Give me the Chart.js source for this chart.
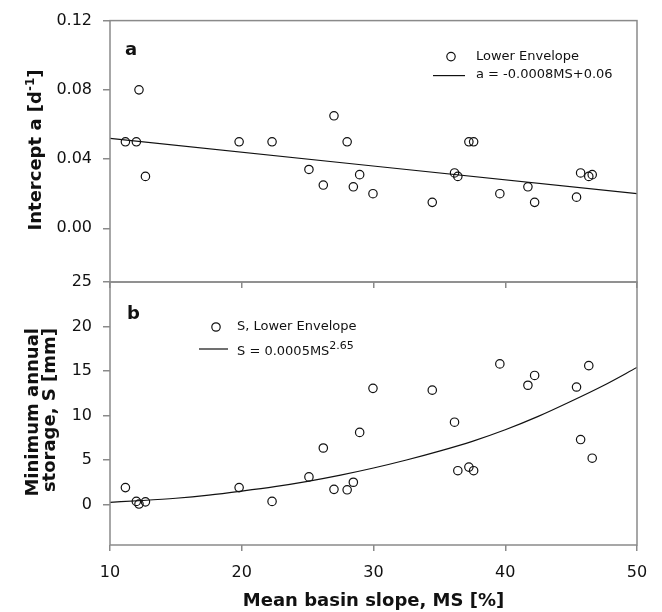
<!DOCTYPE html>
<html>
<head>
<meta charset="utf-8">
<script src="https://cdn.jsdelivr.net/npm/chart.js@4.4.1/dist/chart.umd.min.js"></script>
<style>
  html, body { margin: 0; padding: 0; background: #fff; }
  #wrap { position: relative; width: 662px; height: 612px; }
  #wrap canvas { position: absolute; left: 0; top: 0; }
</style>
</head>
<body>
<div id="wrap">
  <canvas id="panelB" width="662" height="612"></canvas>
  <canvas id="panelA" width="662" height="612"></canvas>
</div>
<script>
// mean basin slope MS [%], same basins in both panels
const slope = [11.17, 12.0, 12.2, 12.69, 19.8, 22.3, 25.1, 26.19, 27.0, 28.0, 28.47, 28.95, 29.96,
               34.46, 36.15, 36.4, 37.24, 37.6, 39.59, 41.72, 42.23, 45.41, 45.72, 46.34, 46.6];
// panel a: intercept a [1/d], lower envelope
const intercept = [0.050, 0.050, 0.080, 0.030, 0.050, 0.050, 0.034, 0.025, 0.065, 0.050, 0.024, 0.031, 0.020,
                   0.015, 0.032, 0.030, 0.050, 0.050, 0.020, 0.024, 0.015, 0.018, 0.032, 0.030, 0.031];
// panel b: minimum annual storage S [mm], lower envelope
const storage = [1.9, 0.35, 0.05, 0.3, 1.9, 0.35, 3.1, 6.35, 1.7, 1.65, 2.5, 8.1, 13.05,
                 12.85, 9.25, 3.8, 4.2, 3.8, 15.8, 13.4, 14.5, 13.2, 7.3, 15.6, 5.2];
// fitted lines
const fitAx = [10, 50];
const fitAy = [0.052, 0.020];
const fitBx = [10, 12.5, 15, 17.5, 20, 22.5, 25, 27.5, 30, 32.5, 35, 37.5, 40, 42.5, 45, 47.5, 50];
const fitBy = [0.25, 0.45, 0.7, 1.05, 1.5, 2.0, 2.6, 3.3, 4.1, 5.0, 6.0, 7.1, 8.4, 9.9, 11.6, 13.4, 15.4];
// ticks
const xTicks = [10, 20, 30, 40, 50];
const aTicks = [0, 0.04, 0.08, 0.12];
const aTickLabels = ['0.00', '0.04', '0.08', '0.12'];
const bTicks = [0, 5, 10, 15, 20, 25];
const bTickLabels = ['0', '5', '10', '15', '20', '25'];

const AXIS = '#8a8a8a';
const INK = '#111';
const FAMILY = '"DejaVu Sans", sans-serif';

// text with ^superscript^ parts
function richWidth(ctx, segs, o) {
  let w = 0;
  segs.forEach((t, i) => {
    ctx.font = `${o.weight} ${i % 2 ? o.sup : o.size}px ${FAMILY}`;
    w += ctx.measureText(t).width;
  });
  return w;
}
function drawRich(ctx, segs, x, y, o) {
  segs.forEach((t, i) => {
    ctx.font = `${o.weight} ${i % 2 ? o.sup : o.size}px ${FAMILY}`;
    ctx.fillText(t, x, i % 2 ? y - o.rise : y);
    x += ctx.measureText(t).width;
  });
}

const panelPlugin = {
  id: 'panel',
  afterDraw(chart, args, o) {
    const {ctx, chartArea: ca} = chart;
    ctx.save();
    ctx.strokeStyle = AXIS;
    ctx.lineWidth = 1.5;
    ctx.strokeRect(ca.left, ca.top, ca.width, ca.height);

    ctx.fillStyle = INK;
    ctx.textAlign = 'left';
    ctx.textBaseline = 'middle';
    ctx.font = `bold 18px ${FAMILY}`;
    ctx.fillText(o.letter, ca.left + o.letterAt[0], ca.top + o.letterAt[1]);

    // legend
    const L = o.legend;
    ctx.strokeStyle = INK;
    ctx.lineWidth = 1.2;
    ctx.beginPath();
    ctx.arc(ca.left + L.dot, ca.top + L.row1, 4.2, 0, Math.PI * 2);
    ctx.stroke();
    ctx.beginPath();
    ctx.moveTo(ca.left + L.line[0], ca.top + L.lineY);
    ctx.lineTo(ca.left + L.line[1], ca.top + L.lineY);
    ctx.stroke();
    const lf = {weight: 'normal', size: 13, sup: 11, rise: 6};
    drawRich(ctx, L.text1.split('^'), ca.left + L.text, ca.top + L.row1, lf);
    drawRich(ctx, L.text2.split('^'), ca.left + L.text, ca.top + L.row2, lf);

    // y axis title
    const T = o.ytitle;
    const tf = {weight: 'bold', size: 18, sup: 12, rise: 7};
    ctx.textBaseline = 'alphabetic';
    T.lines.forEach((line, i) => {
      const segs = line.split('^');
      const w = richWidth(ctx, segs, tf);
      ctx.save();
      ctx.translate(T.x[i], T.y);
      ctx.rotate(-Math.PI / 2);
      drawRich(ctx, segs, T.align === 'center' ? -w / 2 : -w, 0, tf);
      ctx.restore();
    });
    ctx.restore();
  }
};

function xScale(labels) {
  return {
    type: 'linear', min: 10, max: 50,
    afterBuildTicks: s => { s.ticks = xTicks.map(v => ({value: v})); },
    afterFit: s => { s.height = labels ? 67 : 6; },
    grid: {drawOnChartArea: false, tickLength: 6, color: AXIS, lineWidth: 1.5},
    border: {display: false},
    ticks: {display: labels, padding: 12, color: INK, font: {family: FAMILY, size: 16}},
    title: {display: labels, text: 'Mean basin slope, MS [%]', color: INK, padding: 0,
            font: {family: FAMILY, size: 18, weight: 'bold'}}
  };
}
function yScale(min, max, ticks, tickLabels) {
  return {
    type: 'linear', min: min, max: max,
    afterBuildTicks: s => { s.ticks = ticks.map(v => ({value: v})); },
    afterFit: s => { s.width = 110; },
    grid: {drawOnChartArea: false, tickLength: 7, color: AXIS, lineWidth: 1.5},
    border: {display: false},
    ticks: {padding: 11, color: INK, font: {family: FAMILY, size: 16},
            callback: (v, i) => tickLabels[i]}
  };
}
const pointStyle = {
  showLine: false, pointStyle: 'circle', pointRadius: 4.2, pointBorderWidth: 1.2,
  pointBorderColor: INK, pointBackgroundColor: 'rgba(0,0,0,0)', borderColor: INK
};
const lineStyle = {showLine: true, pointRadius: 0, borderColor: INK, borderWidth: 1.2, cubicInterpolationMode: 'monotone'};

new Chart(document.getElementById('panelA'), {
  type: 'scatter',
  data: {
    datasets: [
      Object.assign({label: 'Lower Envelope', data: slope.map((x, i) => ({x: x, y: intercept[i]}))}, pointStyle),
      Object.assign({label: 'a = -0.0008MS+0.06', data: fitAx.map((x, i) => ({x: x, y: fitAy[i]}))}, lineStyle)
    ]
  },
  options: {
    responsive: false, animation: false,
    layout: {padding: {left: 0, right: 25, top: 16, bottom: 324}},
    plugins: {
      legend: {display: false}, tooltip: {enabled: false},
      panel: {
        letter: 'a', letterAt: [15, 30],
        legend: {dot: 341, row1: 36, line: [323, 355], lineY: 55, row2: 54, text: 366,
                 text1: 'Lower Envelope', text2: 'a = -0.0008MS+0.06'},
        ytitle: {lines: ['Intercept a [d^-1^]'], x: [41], y: 150, align: 'center'}
      }
    },
    scales: {x: xScale(false), y: yScale(-0.031, 0.12, aTicks, aTickLabels)}
  },
  plugins: [panelPlugin]
});

new Chart(document.getElementById('panelB'), {
  type: 'scatter',
  data: {
    datasets: [
      Object.assign({label: 'S, Lower Envelope', data: slope.map((x, i) => ({x: x, y: storage[i]}))}, pointStyle),
      Object.assign({label: 'S = 0.0005MS^2.65', data: fitBx.map((x, i) => ({x: x, y: fitBy[i]}))}, lineStyle)
    ]
  },
  options: {
    responsive: false, animation: false,
    layout: {padding: {left: 0, right: 25, top: 282, bottom: 0}},
    plugins: {
      legend: {display: false}, tooltip: {enabled: false},
      panel: {
        letter: 'b', letterAt: [17, 32],
        legend: {dot: 106, row1: 45, line: [89, 118], lineY: 67, row2: 70, text: 127,
                 text1: 'S, Lower Envelope', text2: 'S = 0.0005MS^2.65'},
        ytitle: {lines: ['Minimum annual', 'storage, S [mm]'], x: [38, 55], y: 328, align: 'top'}
      }
    },
    scales: {x: xScale(true), y: yScale(-4.55, 25, bTicks, bTickLabels)}
  },
  plugins: [panelPlugin]
});
</script>
</body>
</html>
